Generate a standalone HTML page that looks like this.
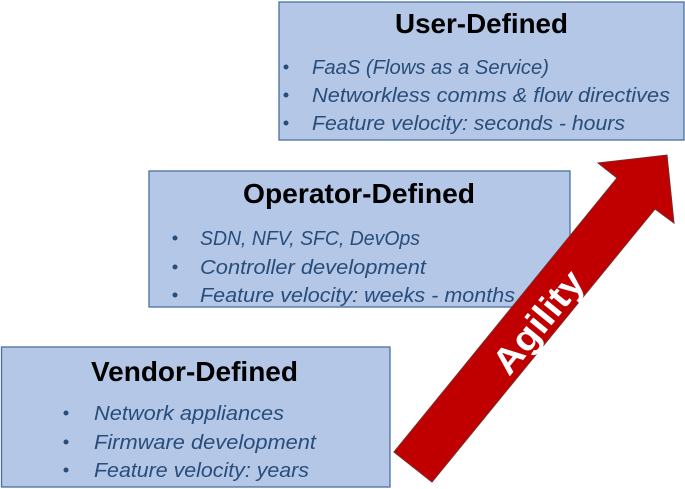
<!DOCTYPE html>
<html><head><meta charset="utf-8"><style>html,body{margin:0;padding:0;background:#fff}svg{display:block}</style></head>
<body>
<svg width="685" height="489" viewBox="0 0 685 489" xmlns="http://www.w3.org/2000/svg" font-family="Liberation Sans, sans-serif">
<g fill="#b4c7e7" stroke="#4a6fa0" stroke-width="1.3">
<rect x="279" y="2" width="405" height="138"/>
<rect x="149" y="171" width="421" height="136"/>
<rect x="1.5" y="347" width="388.5" height="140"/>
</g>
<g font-weight="bold" font-size="28" fill="#000">
<text x="395" y="33" textLength="173" lengthAdjust="spacingAndGlyphs">User-Defined</text>
<text x="243" y="203" textLength="232" lengthAdjust="spacingAndGlyphs">Operator-Defined</text>
<text x="91" y="381" textLength="207" lengthAdjust="spacingAndGlyphs">Vendor-Defined</text>
</g>
<g font-style="italic" font-size="20.5" fill="#284d7a">
<text x="312" y="74" textLength="237" lengthAdjust="spacingAndGlyphs">FaaS (Flows as a Service)</text>
<text x="312" y="102" textLength="358" lengthAdjust="spacingAndGlyphs">Networkless comms &amp; flow directives</text>
<text x="312" y="130" textLength="313" lengthAdjust="spacingAndGlyphs">Feature velocity: seconds - hours</text>
<text x="200" y="245" textLength="220" lengthAdjust="spacingAndGlyphs">SDN, NFV, SFC, DevOps</text>
<text x="200" y="274" textLength="226" lengthAdjust="spacingAndGlyphs">Controller development</text>
<text x="200" y="302" textLength="315" lengthAdjust="spacingAndGlyphs">Feature velocity: weeks - months</text>
<text x="94" y="420" textLength="190" lengthAdjust="spacingAndGlyphs">Network appliances</text>
<text x="94" y="449" textLength="222" lengthAdjust="spacingAndGlyphs">Firmware development</text>
<text x="94" y="477" textLength="215" lengthAdjust="spacingAndGlyphs">Feature velocity: years</text>
</g>
<g fill="#284d7a">
<circle cx="286" cy="67" r="2.5"/><circle cx="286" cy="95" r="2.5"/><circle cx="286" cy="123" r="2.5"/>
<circle cx="175" cy="238" r="2.5"/><circle cx="175" cy="267" r="2.5"/><circle cx="175" cy="295" r="2.5"/>
<circle cx="66" cy="413" r="2.5"/><circle cx="66" cy="442" r="2.5"/><circle cx="66" cy="470" r="2.5"/>
</g>
<polygon points="394,452 617,178 598,163 667,155 674,223 655,209 432,482" fill="#c00000" stroke="#7a2a2a" stroke-width="1"/>
<text x="0" y="0" transform="translate(538,322) rotate(-50.8)" text-anchor="middle" dominant-baseline="central" font-weight="bold" font-size="36" fill="#fff" textLength="122" lengthAdjust="spacingAndGlyphs">Agility</text>
</svg>
</body></html>
